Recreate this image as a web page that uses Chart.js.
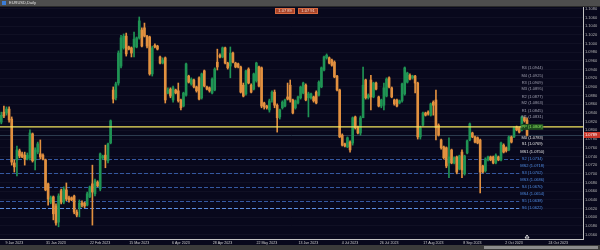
<!DOCTYPE html>
<html>
<head>
<meta charset="utf-8">
<script src="https://cdn.jsdelivr.net/npm/chart.js@4/dist/chart.umd.min.js"></script>
<style>
  html, body { margin: 0; padding: 0; background: #08081c; overflow: hidden; }
  #wrap { width: 600px; height: 250px; }
</style>
</head>
<body>
<div id="wrap"><canvas id="chart" width="600" height="250"></canvas></div>
<script>
// daily candles
const opens = [
  1.0819,1.0842,1.0840,1.0849,1.0826,1.0725,1.0732,1.0753,1.0746,1.0743,
  1.0734,1.0737,1.0792,1.0732,1.0750,1.0746,1.0743,1.0732,1.0677,1.0635,
  1.0647,1.0626,1.0589,1.0661,1.0635,1.0663,1.0645,1.0645,1.0649,1.0612,
  1.0622,1.0633,1.0633,1.0628,1.0647,1.0677,1.0654,1.0681,1.0665,1.0737,
  1.0743,1.0730,1.0771,1.0893,1.0875,1.0909,1.0948,1.0990,1.1017,1.0992,
  1.0990,1.0992,1.0992,1.1013,1.1031,1.1036,1.1017,1.1015,1.0930,1.0996,
  1.0994,1.0969,1.0955,1.0967,1.0886,1.0895,1.0870,1.0893,1.0891,1.0870,
  1.0856,1.0881,1.0925,1.0907,1.0916,1.0900,1.0921,1.0875,1.0937,1.0900,
  1.0898,1.0886,1.0893,1.0957,1.0973,1.0969,1.0990,1.0955,1.0948,1.0978,
  1.0955,1.0953,1.0946,1.0904,1.0884,1.0941,1.0904,1.0895,1.0914,1.0946,
  1.0944,1.0863,1.0856,1.0847,1.0870,1.0888,1.0858,1.0831,1.0852,1.0856,
  1.0877,1.0904,1.0870,1.0852,1.0863,1.0875,1.0886,1.0904,1.0875,1.0875,
  1.0877,1.0888,1.0881,1.0900,1.0939,1.0967,1.0967,1.0962,1.0957,1.0925,
  1.0893,1.0789,1.0769,1.0762,1.0773,1.0771,1.0831,1.0808,1.0794,1.0829,
  1.0916,1.0875,1.0916,1.0877,1.0909,1.0877,1.0856,1.0858,1.0879,1.0921,
  1.0898,1.0870,1.0870,1.0863,1.0868,1.0884,1.0911,1.0927,1.0921,1.0925,
  1.0909,1.0785,1.0812,1.0840,1.0842,1.0835,1.0865,1.0870,1.0812,1.0778,
  1.0762,1.0760,1.0725,1.0755,1.0725,1.0739,1.0711,1.0750,1.0700,1.0748,
  1.0778,1.0794,1.0785,1.0783,1.0778,1.0718,1.0707,1.0732,1.0739,1.0739,
  1.0725,1.0739,1.0732,1.0766,1.0760,1.0755,1.0785,1.0785,1.0808,1.0806,
  1.0801,1.0829,1.0824
];
const highs = [
  1.0842,1.0856,1.0854,1.0854,1.0831,1.0732,1.0764,1.0757,1.0750,1.0750,
  1.0748,1.0801,1.0794,1.0760,1.0773,1.0778,1.0746,1.0734,1.0679,1.0649,
  1.0649,1.0631,1.0654,1.0665,1.0670,1.0679,1.0649,1.0647,1.0651,1.0617,
  1.0640,1.0638,1.0635,1.0658,1.0672,1.0720,1.0688,1.0684,1.0748,1.0743,
  1.0766,1.0771,1.0824,1.0900,1.0911,1.0983,1.1019,1.1022,1.1024,1.0994,
  1.0992,1.1026,1.1015,1.1061,1.1036,1.1047,1.1019,1.1017,1.0994,1.0999,
  1.0996,1.0971,1.0967,1.0969,1.0898,1.0898,1.0902,1.0895,1.0909,1.0872,
  1.0888,1.0955,1.0927,1.0921,1.0918,1.0902,1.0923,1.0932,1.0939,1.0902,
  1.0900,1.0921,1.0944,1.0987,1.0976,1.0992,1.0992,1.0957,1.0992,1.0980,
  1.0957,1.0955,1.0948,1.0909,1.0939,1.0944,1.0907,1.0932,1.0957,1.0948,
  1.0946,1.0865,1.0858,1.0872,1.0891,1.0893,1.0861,1.0849,1.0868,1.0872,
  1.0909,1.0916,1.0872,1.0870,1.0879,1.0902,1.0911,1.0907,1.0888,1.0886,
  1.0879,1.0891,1.0914,1.0946,1.0971,1.0976,1.0969,1.0964,1.0960,1.0927,
  1.0895,1.0792,1.0771,1.0785,1.0776,1.0831,1.0833,1.0810,1.0833,1.0946,
  1.0918,1.0884,1.0927,1.0911,1.0911,1.0879,1.0872,1.0909,1.0921,1.0923,
  1.0900,1.0872,1.0872,1.0870,1.0909,1.0946,1.0934,1.0930,1.0927,1.0927,
  1.0911,1.0810,1.0842,1.0842,1.0845,1.0863,1.0868,1.0893,1.0815,1.0780,
  1.0764,1.0762,1.0783,1.0757,1.0739,1.0741,1.0743,1.0755,1.0743,1.0778,
  1.0817,1.0796,1.0787,1.0785,1.0780,1.0720,1.0737,1.0741,1.0741,1.0741,
  1.0746,1.0741,1.0773,1.0769,1.0762,1.0787,1.0787,1.0808,1.0810,1.0808,
  1.0833,1.0831,1.0829
];
const lows = [
  1.0815,1.0829,1.0835,1.0819,1.0720,1.0704,1.0695,1.0737,1.0737,1.0720,
  1.0732,1.0732,1.0727,1.0709,1.0746,1.0734,1.0732,1.0661,1.0628,1.0631,
  1.0594,1.0582,1.0578,1.0631,1.0631,1.0638,1.0635,1.0638,1.0608,1.0601,
  1.0601,1.0624,1.0622,1.0626,1.0645,1.0582,1.0649,1.0670,1.0661,1.0734,
  1.0714,1.0725,1.0769,1.0863,1.0870,1.0904,1.0944,1.0987,1.0971,1.0985,
  1.0969,1.0969,1.0990,1.1010,1.0992,1.1015,1.0990,1.0927,1.0925,1.0990,
  1.0985,1.0953,1.0953,1.0863,1.0884,1.0875,1.0865,1.0884,1.0865,1.0847,
  1.0854,1.0879,1.0909,1.0904,1.0898,1.0888,1.0870,1.0872,1.0900,1.0893,
  1.0888,1.0884,1.0891,1.0939,1.0967,1.0967,1.0953,1.0941,1.0921,1.0955,
  1.0944,1.0944,1.0886,1.0877,1.0881,1.0907,1.0886,1.0893,1.0911,1.0900,
  1.0852,1.0849,1.0849,1.0842,1.0865,1.0852,1.0796,1.0826,1.0849,1.0854,
  1.0870,1.0865,1.0838,1.0849,1.0861,1.0872,1.0884,1.0868,1.0831,1.0872,
  1.0865,1.0861,1.0879,1.0898,1.0937,1.0964,1.0953,1.0948,1.0921,1.0891,
  1.0783,1.0764,1.0762,1.0760,1.0750,1.0766,1.0803,1.0792,1.0789,1.0829,
  1.0872,1.0872,1.0847,1.0875,1.0893,1.0854,1.0852,1.0847,1.0877,1.0898,
  1.0875,1.0858,1.0854,1.0861,1.0865,1.0881,1.0909,1.0916,1.0918,1.0886,
  1.0780,1.0780,1.0810,1.0833,1.0835,1.0833,1.0835,1.0778,1.0787,1.0757,
  1.0734,1.0714,1.0691,1.0723,1.0723,1.0700,1.0709,1.0691,1.0697,1.0746,
  1.0776,1.0783,1.0771,1.0769,1.0656,1.0702,1.0704,1.0730,1.0730,1.0723,
  1.0723,1.0730,1.0730,1.0748,1.0750,1.0753,1.0771,1.0783,1.0799,1.0794,
  1.0799,1.0819,1.0787
];
const closes = [
  1.0835,1.0833,1.0849,1.0824,1.0727,1.0716,1.0755,1.0741,1.0739,1.0734,
  1.0743,1.0794,1.0730,1.0755,1.0769,1.0739,1.0734,1.0663,1.0642,1.0645,
  1.0608,1.0587,1.0649,1.0635,1.0665,1.0642,1.0640,1.0640,1.0612,1.0605,
  1.0633,1.0628,1.0626,1.0654,1.0670,1.0658,1.0684,1.0672,1.0746,1.0741,
  1.0732,1.0769,1.0822,1.0872,1.0907,1.0978,1.1013,1.1017,1.0976,1.0987,
  1.0978,1.1010,1.1013,1.1052,1.0994,1.1017,1.0994,1.0930,1.0990,1.0992,
  1.0987,1.0955,1.0962,1.0870,1.0893,1.0879,1.0898,1.0886,1.0868,1.0852,
  1.0886,1.0953,1.0911,1.0918,1.0900,1.0891,1.0872,1.0930,1.0902,1.0895,
  1.0891,1.0918,1.0941,1.0946,1.0969,1.0990,1.0955,1.0944,1.0978,1.0957,
  1.0946,1.0946,1.0888,1.0879,1.0937,1.0909,1.0888,1.0930,1.0955,1.0902,
  1.0856,1.0854,1.0852,1.0868,1.0888,1.0858,1.0829,1.0847,1.0865,1.0870,
  1.0872,1.0870,1.0840,1.0868,1.0877,1.0900,1.0909,1.0870,1.0884,1.0884,
  1.0868,1.0863,1.0911,1.0944,1.0969,1.0973,1.0955,1.0950,1.0923,1.0893,
  1.0785,1.0766,1.0764,1.0783,1.0755,1.0829,1.0806,1.0794,1.0829,1.0904,
  1.0875,1.0881,1.0877,1.0909,1.0895,1.0856,1.0870,1.0898,1.0918,1.0900,
  1.0877,1.0861,1.0856,1.0868,1.0907,1.0944,1.0932,1.0918,1.0925,1.0909,
  1.0785,1.0806,1.0840,1.0835,1.0838,1.0861,1.0858,1.0806,1.0789,1.0760,
  1.0737,1.0718,1.0739,1.0725,1.0737,1.0704,1.0741,1.0709,1.0741,1.0776,
  1.0815,1.0785,1.0773,1.0771,1.0704,1.0704,1.0734,1.0739,1.0732,1.0725,
  1.0743,1.0732,1.0771,1.0750,1.0753,1.0785,1.0773,1.0806,1.0801,1.0796,
  1.0831,1.0822,1.0789
];

const slotCount = 224; // bars + empty space on the right
const dateTicks = [5, 21, 38, 53, 69, 85, 102, 118, 134, 149, 166, 181, 197, 214];
const dateNames = ["9 Jan 2023", "31 Jan 2023", "22 Feb 2023", "15 Mar 2023", "6 Apr 2023", "28 Apr 2023",
  "22 May 2023", "13 Jun 2023", "4 Jul 2023", "26 Jul 2023", "17 Aug 2023", "8 Sep 2023",
  "2 Oct 2023", "24 Oct 2023"];
const priceTicks = [1.056, 1.058, 1.060, 1.062, 1.064, 1.066, 1.068, 1.070, 1.072, 1.074, 1.076, 1.078,
  1.080, 1.082, 1.084, 1.086, 1.088, 1.090, 1.092, 1.094, 1.096, 1.098, 1.100, 1.102, 1.104, 1.106, 1.108];

const pivotLevel = 1.0808;
const fiboLevels = [1.0734, 1.0702, 1.0670, 1.0638, 1.0622];

const levelPrices = [1.0944, 1.0925, 1.0909, 1.0895, 1.0877, 1.0863, 1.0845, 1.0831,
  1.0808, 1.0783, 1.0769, 1.0750,
  1.0734, 1.0718, 1.0702, 1.0686, 1.0670, 1.0654, 1.0638, 1.0622];
const levelNames = ["R4", "M4", "R3", "M3", "R2", "M2", "R1", "M1",
  "PP", "M0", "S1", "MS1",
  "S2", "MS2", "S3", "MS3", "S4", "MS4", "S5", "S6"];
const levelKinds = ["r", "r", "r", "r", "r", "r", "r", "r",
  "p", "w", "w", "w",
  "s", "s", "s", "s", "s", "s", "s", "s"];
const labelSlot = 204;

const upColor = '#1f9454';
const downColor = '#e2903f';
const candleColors = closes.map((c, i) => c >= opens[i] ? upColor : downColor);
const labels = Array.from({ length: slotCount }, (_, i) => String(i));
const font = 'Liberation Sans';

const chrome = {
  id: 'chrome',
  beforeDraw(chart) {
    const c = chart.ctx;
    c.save();
    c.fillStyle = '#08081c';
    c.fillRect(0, 0, chart.width, chart.height);
    c.restore();
  },
  beforeDatasetsDraw(chart) {
    const { ctx: c, chartArea: a, scales: { x, y } } = chart;
    const lx = x.getPixelForValue(labelSlot);
    c.save();
    c.lineWidth = 1;
    c.strokeStyle = '#2b3b4e';
    const py = Math.round(y.getPixelForValue(closes[closes.length - 1])) + 0.5;
    c.beginPath(); c.moveTo(a.left, py); c.lineTo(a.right, py); c.stroke();
    c.setLineDash([4, 2]);
    fiboLevels.forEach((v, i) => {
      c.strokeStyle = i === fiboLevels.length - 1 ? '#5d8fe0' : '#3558a0';
      const yy = Math.round(y.getPixelForValue(v)) + 0.5;
      c.beginPath(); c.moveTo(a.left, yy); c.lineTo(lx - 13, yy); c.stroke();
    });
    c.restore();
  },
  afterDatasetsDraw(chart) {
    const { ctx: c, chartArea: a, scales: { x, y } } = chart;
    const lx = x.getPixelForValue(labelSlot);
    c.save();
    c.strokeStyle = '#f2e45c';
    c.lineWidth = 1.4;
    const yy = y.getPixelForValue(pivotLevel);
    c.beginPath(); c.moveTo(a.left, yy); c.lineTo(a.right, yy); c.stroke();

    c.font = '4px "' + font + '"';
    c.textAlign = 'center';
    c.textBaseline = 'middle';
    levelPrices.forEach((v, i) => {
      const t = levelNames[i] + ' (' + v.toFixed(4) + ')';
      const ty = y.getPixelForValue(v);
      const k = levelKinds[i];
      if (k === 'p') {
        c.fillStyle = '#1e4a1e';
        c.fillRect(lx - 11, ty - 3, 22, 6);
        c.fillStyle = '#8ef060';
      } else if (k === 'w') {
        c.fillStyle = '#e4e4e4';
      } else if (k === 's') {
        c.fillStyle = '#4f8de6';
      } else {
        c.fillStyle = '#a0a0b0';
      }
      c.fillText(t, lx, ty);
    });
    c.restore();
  },
  afterDraw(chart) {
    const { ctx: c, chartArea: a, scales: { x, y } } = chart;
    c.save();
    // window title bar
    c.fillStyle = '#4d4d4d';
    c.fillRect(0, 0, chart.width, 6);
    c.fillStyle = '#2a2a2a';
    c.fillRect(0, 6, chart.width, 1);
    c.fillStyle = '#3b7dd8';
    c.fillRect(2, 1, 4, 4);
    c.font = '4px "' + font + '"';
    c.textBaseline = 'middle';
    c.textAlign = 'left';
    c.fillStyle = '#e0e0e0';
    c.fillText('EURUSD,Daily', 9, 3.2);

    // one click buttons
    c.fillStyle = '#a8442a';
    c.strokeStyle = '#d86a40';
    c.lineWidth = 1;
    [[275, '1.07 89'], [298, '1.07 91']].forEach(([bx, t]) => {
      c.fillRect(bx, 8, 20, 6);
      c.strokeRect(bx + 0.5, 8.5, 19, 5);
      c.fillStyle = '#f4d8cc';
      c.textAlign = 'center';
      c.fillText(t, bx + 10, 11.2);
      c.fillStyle = '#a8442a';
    });

    // current price tag
    const last = closes[closes.length - 1];
    const py = Math.round(y.getPixelForValue(last));
    c.fillStyle = '#c8352a';
    c.fillRect(a.right + 1, py - 3, 16, 6);
    c.fillStyle = '#ffffff';
    c.textAlign = 'left';
    c.fillText(last.toFixed(4), a.right + 2, py + 0.3);

    // shift marker
    const mx = x.getPixelForValue(labelSlot - 2);
    c.strokeStyle = '#e0e0e0';
    c.beginPath();
    c.moveTo(mx - 2, a.bottom - 1); c.lineTo(mx, a.bottom - 4); c.lineTo(mx + 2, a.bottom - 1); c.closePath();
    c.stroke();

    // bottom scroll bar
    c.fillStyle = '#3a3a3a';
    c.fillRect(0, 245, chart.width, 5);
    c.fillStyle = '#8c8c8c';
    c.fillRect(484, 246, 114, 3);
    c.restore();
  }
};

new Chart(document.getElementById('chart').getContext('2d'), {
  type: 'bar',
  data: {
    labels: labels,
    datasets: [
      {
        data: lows.map((l, i) => [l, highs[i]]),
        backgroundColor: candleColors,
        barThickness: 1,
        grouped: false,
        order: 2
      },
      {
        data: opens.map((o, i) => [o, closes[i]]),
        backgroundColor: candleColors,
        barThickness: 2,
        minBarLength: 1,
        grouped: false,
        order: 1
      }
    ]
  },
  options: {
    responsive: false,
    animation: false,
    layout: { padding: { top: 7, left: 0, right: 0, bottom: 0 } },
    plugins: { legend: { display: false }, tooltip: { enabled: false } },
    scales: {
      x: {
        grid: { display: false, drawTicks: false },
        border: { color: '#c4c4c4', width: 1 },
        ticks: {
          autoSkip: false,
          maxRotation: 0,
          minRotation: 0,
          padding: 2,
          color: '#cfcfcf',
          font: { family: font, size: 3.6 },
          callback: (v, i) => dateNames[dateTicks.indexOf(i)] ?? ''
        },
        afterFit(s) { s.height = 11; s.paddingLeft = 0; s.paddingRight = 0; }
      },
      y: {
        position: 'right',
        min: 1.0550,
        max: 1.1084,
        grid: { color: 'rgba(255,255,255,0.035)', drawTicks: false },
        border: { color: '#c4c4c4', width: 1 },
        ticks: {
          padding: 2,
          color: '#b4b4b4',
          font: { family: font, size: 4 },
          callback: v => v.toFixed(4)
        },
        afterBuildTicks(s) { s.ticks = priceTicks.map(v => ({ value: v })); },
        afterFit(s) { s.width = 17; s.paddingTop = 0; s.paddingBottom = 0; }
      }
    }
  },
  plugins: [chrome]
});
</script>
</body>
</html>
